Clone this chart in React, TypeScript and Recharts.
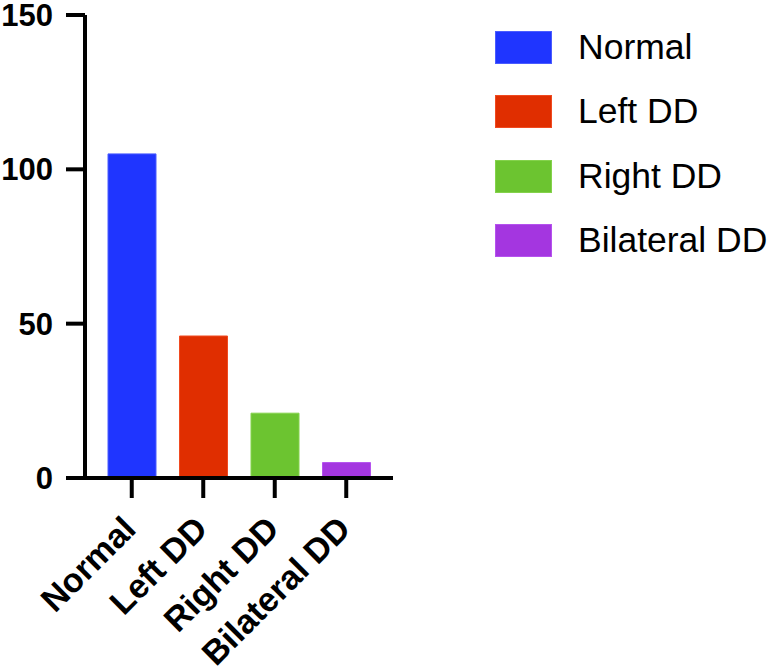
import { BarChart, Bar, XAxis, YAxis, Cell } from 'recharts'

const categories = ['Normal', 'Left DD', 'Right DD', 'Bilateral DD']
const counts = [105, 46, 21, 5]
const colors = ['#1f35ff', '#e02e00', '#6cc430', '#a436e0']
const borders = ['#4a5cff', '#f04a20', '#84d24c', '#b552ee']
const yTicks = [0, 50, 100, 150]

const data = categories.map((name, i) => ({ name, value: counts[i] }))

const FONT = 'Liberation Sans, Arial, Helvetica, sans-serif'

function XTick({ x, y, payload }: any) {
  const ax = x + 6
  const ay = y + 27
  return (
    <text
      x={ax}
      y={ay}
      transform={`rotate(-45, ${ax}, ${ay})`}
      textAnchor="end"
      fontFamily={FONT}
      fontWeight={700}
      fontSize={34}
      fill="#000"
    >
      {payload.value}
    </text>
  )
}

function YTick({ x, y, payload }: any) {
  return (
    <text
      x={x}
      y={y}
      dy={11}
      textAnchor="end"
      fontFamily={FONT}
      fontWeight={700}
      fontSize={31}
      fill="#000"
    >
      {payload.value}
    </text>
  )
}

function LegendBox() {
  return (
    <div style={{ position: 'absolute', left: 495, top: 15, fontFamily: FONT }}>
      {categories.map((c, i) => (
        <div key={c} style={{ display: 'flex', alignItems: 'center', height: 64.5 }}>
          <div style={{
            width: 55, height: 31, background: colors[i],
            border: `1px solid ${borders[i]}`, marginRight: 26,
          }} />
          <span style={{ fontSize: 35.5, color: '#000' }}>{c}</span>
        </div>
      ))}
    </div>
  )
}

export default function App() {
  return (
    <div style={{ position: 'absolute', left: 0, top: 0, width: 775, height: 671, background: '#fff' }}>
      <BarChart
        width={775}
        height={671}
        data={data}
        margin={{ top: 15, right: 382, bottom: 0, left: 0 }}
      >
        <XAxis
          dataKey="name"
          interval={0}
          padding={{ left: 11, right: 11 }}
          stroke="#000"
          strokeWidth={4}
          tickSize={20}
          tickMargin={6}
          tick={<XTick />}
          height={193}
        />
        <YAxis
          width={85}
          domain={[0, 150]}
          ticks={yTicks}
          stroke="#000"
          strokeWidth={4}
          tickSize={19}
          tickMargin={13}
          tick={<YTick />}
        />
        <Bar dataKey="value" barSize={48} isAnimationActive={false}>
          {data.map((d, i) => (
            <Cell key={d.name} fill={colors[i]} stroke={borders[i]} strokeWidth={1} />
          ))}
        </Bar>
      </BarChart>
      <LegendBox />
    </div>
  )
}
